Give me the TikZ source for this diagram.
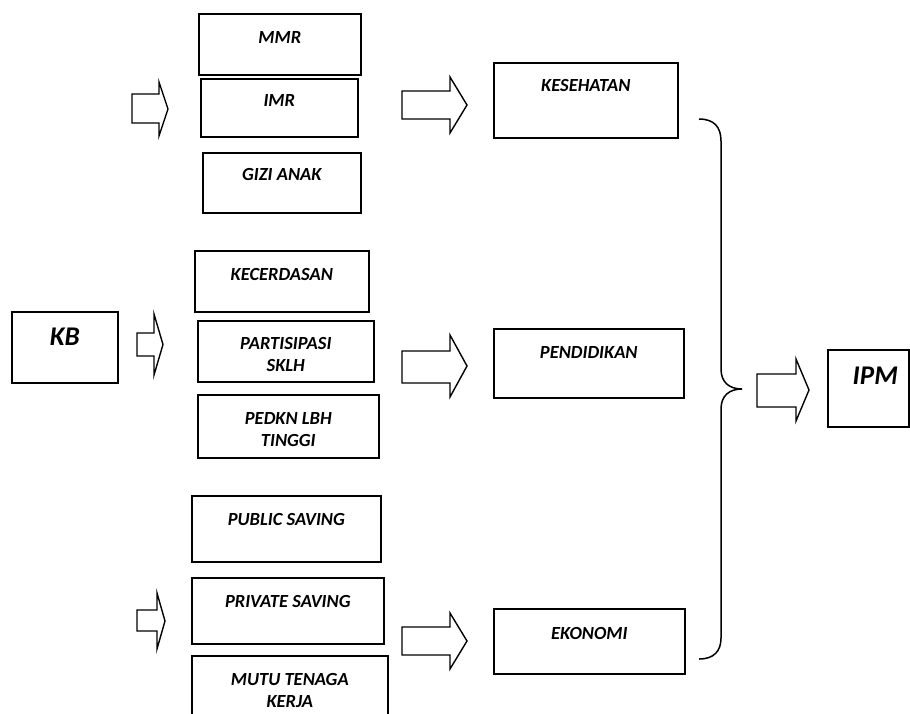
\documentclass[tikz,border=0pt]{standalone}
\usepackage{fontspec}
\setmainfont{Carlito}
\usetikzlibrary{positioning}
\tikzset{
box/.style={draw,line width=1.6pt,anchor=north west,inner sep=0pt},
lbl/.style={inner sep=0pt,align=center,font=\fontsize{18.5}{22}\selectfont\bfseries\itshape},
biglbl/.style={lbl,font=\fontsize{27}{30}\selectfont\bfseries\itshape},
fatarrow/.style={draw,line width=1.4pt,line join=miter},
bracestyle/.style={draw,line width=1.5pt}
}
% block arrow: shaft x0, shaft x1, tip x, shaft y0, shaft y1, head y0, head y1
\newcommand{\blockarr}[7]{\draw[fatarrow] (#1,#4) -- (#2,#4) -- (#2,#6) -- (#3,{(#6+#7)/2}) -- (#2,#7) -- (#2,#5) -- (#1,#5) -- cycle;}

\begin{document}
\begin{tikzpicture}[x=1pt,y=-1pt]
	\useasboundingbox (0,0) rectangle (910,713);
	\clip (0,0) rectangle (910,713);

	% left column
	\node[box,minimum width=106pt,minimum height=71pt] (kb) at (11,311) {};
	\node[biglbl,below=17pt of kb.north] {KB};

	% first group
	\node[box,minimum width=162pt,minimum height=61pt] (mmr) at (198,13) {};
	\node[box,minimum width=157pt,minimum height=58pt] (imr) at (200,78) {};
	\node[box,minimum width=158pt,minimum height=60pt] (gizi) at (202,152) {};
	\node[lbl,below=18pt of mmr.north] {MMR};
	\node[lbl,below=16pt of imr.north] {IMR};
	\node[lbl,below=16pt of gizi.north] {GIZI ANAK};

	% second group
	\node[box,minimum width=174pt,minimum height=61pt] (cerdas) at (194,250) {};
	\node[box,minimum width=176pt,minimum height=61pt] (partisipasi) at (197,320) {};
	\node[box,minimum width=181pt,minimum height=63pt] (pedkn) at (197,394) {};
	\node[lbl,below=18pt of cerdas.north] {KECERDASAN};
	\node[lbl,below=17pt of partisipasi.north] {PARTISIPASI\\SKLH};
	\node[lbl,below=18pt of pedkn.north] {PEDKN LBH\\TINGGI};

	% third group
	\node[box,minimum width=189pt,minimum height=66pt] (public) at (191,495) {};
	\node[box,minimum width=192pt,minimum height=66pt] (private) at (191,577) {};
	\node[box,minimum width=196pt,minimum height=80pt] (mutu) at (191,655) {};
	\node[lbl,below=18pt of public.north] {PUBLIC SAVING};
	\node[lbl,below=18pt of private.north] {PRIVATE SAVING};
	\node[lbl,below=18pt of mutu.north] {MUTU TENAGA\\KERJA};

	% sectors
	\node[box,minimum width=184pt,minimum height=75pt] (sehat) at (493,62) {};
	\node[box,minimum width=190pt,minimum height=69pt] (didik) at (493,328) {};
	\node[box,minimum width=191pt,minimum height=65pt] (ekonomi) at (493,608) {};
	\node[lbl,below=17pt of sehat.north] {KESEHATAN};
	\node[lbl,below=18pt of didik.north] {PENDIDIKAN};
	\node[lbl,below=19pt of ekonomi.north] {EKONOMI};

	% result
	\node[box,minimum width=81pt,minimum height=77pt] (ipm) at (827,349) {};
	\node[biglbl,below=18pt of ipm.north,xshift=7pt] {IPM};

	% block arrows
	\blockarr{132}{159}{168}{94}{123}{82}{136}
	\blockarr{137}{154}{163}{333}{356}{314}{375}
	\blockarr{137}{157}{165}{610}{631}{593}{649}
	\blockarr{402}{450}{467}{91}{119}{77}{133}
	\blockarr{402}{450}{467}{351}{383}{335}{397}
	\blockarr{402}{450}{467}{627}{655}{613}{669}
	\blockarr{757}{796}{809}{374}{407}{359}{421}

	% brace joining the three sectors
	\coordinate (bracetop) at (699,119);
	\coordinate (bracetip) at (742,389);
	\coordinate (bracebot) at (699,659);
	\draw[bracestyle] (bracetop) .. controls (714,119) and (721,127) .. (721,141) -- (721,369)
		.. controls (721,382) and (729,389) .. (bracetip)
		.. controls (729,389) and (721,396) .. (721,409) -- (721,638)
		.. controls (721,651) and (714,659) .. (bracebot);
\end{tikzpicture}
\end{document}
